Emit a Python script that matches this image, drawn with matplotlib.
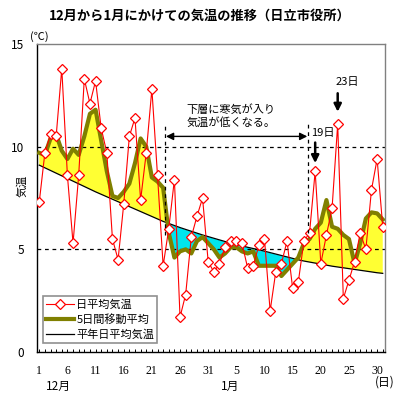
import numpy as np
import matplotlib
matplotlib.use('Agg')
from matplotlib import pyplot as plt
from matplotlib.ticker import FixedLocator, MultipleLocator

plt.rcParams['font.family'] = ['Noto Sans CJK JP', 'DejaVu Sans']

# 日平均気温 (12/1 - 1/31)
daily_temp = [7.3, 9.7, 10.6, 10.5, 13.8, 8.6, 5.3, 8.6, 13.3, 12.1,
              13.2, 10.9, 9.7, 5.5, 4.5, 7.2, 10.5, 11.4, 7.4, 9.7,
              12.8, 8.6, 4.2, 6.0, 8.4, 1.7, 2.8, 5.6, 6.6, 7.5,
              4.4, 3.9, 4.3, 5.1, 5.4, 5.4, 5.3, 4.1, 4.2, 5.2,
              5.5, 2.0, 3.9, 4.3, 5.4, 3.1, 3.4, 5.4, 5.8, 8.8,
              4.3, 5.7, 7.0, 11.1, 2.6, 3.5, 4.4, 5.8, 5.0, 7.9,
              9.4, 6.1]

# 5日間移動平均
moving_avg = [9.7, 9.6, 10.4, 10.6, 9.8, 9.4, 9.9, 9.6, 10.5, 11.6,
              11.8, 10.3, 8.8, 7.6, 7.5, 7.8, 8.2, 9.2, 10.4, 10.0,
              8.5, 8.3, 8.0, 5.8, 4.6, 4.9, 5.0, 4.8, 5.4, 5.6,
              5.3, 5.0, 4.6, 4.8, 5.1, 5.1, 4.9, 4.8, 4.9, 4.2,
              4.2, 4.2, 4.2, 3.7, 4.0, 4.3, 4.6, 5.3, 5.5, 6.0,
              6.3, 7.4, 6.1, 6.0, 5.7, 5.5, 4.3, 5.3, 6.5, 6.8,
              6.75, 6.45]

# 平年日平均気温
normal_temp = [9.10, 8.97, 8.84, 8.71, 8.58, 8.45, 8.32, 8.19, 8.06, 7.93,
               7.80, 7.68, 7.56, 7.44, 7.32, 7.20, 7.08, 6.96, 6.84, 6.72,
               6.60, 6.48, 6.36, 6.26, 6.16, 6.06, 5.97, 5.88, 5.79, 5.70,
               5.62, 5.54, 5.46, 5.38, 5.31, 5.24, 5.17, 5.10, 5.04, 4.98,
               4.91, 4.84, 4.77, 4.70, 4.63, 4.56, 4.49, 4.43, 4.38, 4.33,
               4.28, 4.23, 4.18, 4.14, 4.10, 4.06, 4.02, 3.98, 3.94, 3.90,
               3.86, 3.83]

tick_pos = [0, 5, 10, 15, 20, 25, 30, 35, 40, 45, 50, 55, 60]
tick_labels = ['1', '6', '11', '16', '21', '26', '31', '5', '10', '15', '20', '25', '30']

x = np.arange(len(daily_temp))
ma = np.array(moving_avg)
nt = np.array(normal_temp)

fig = plt.figure(figsize=(4, 4), dpi=100)
ax = fig.add_axes([0.0925, 0.12, 0.87, 0.77])

# 平年との差の塗りつぶし
ax.fill_between(x, ma, nt, where=ma >= nt, interpolate=True,
                color='#ffff33', linewidth=0, zorder=1)
ax.fill_between(x, ma, nt, where=ma < nt, interpolate=True,
                color='#00e5ee', linewidth=0, zorder=1)

for yv in [5, 10]:
    ax.axhline(yv, color='black', lw=0.9, ls=(0, (3, 3)), zorder=2)

ax.plot(x, nt, color='black', lw=0.9, label='平年日平均気温', zorder=3)
ax.plot(x, ma, color='#808000', lw=3.0, label='5日間移動平均', zorder=4)
ax.plot(x, daily_temp, color='red', lw=0.8, marker='D', markersize=4.8,
        markerfacecolor='white', markeredgecolor='red', markeredgewidth=0.9,
        label='日平均気温', zorder=5)

# 注記
ax.plot([22.4, 22.4], [5.7, 11.1], color='black', lw=0.9, ls=(0, (3, 3)), zorder=6)
ax.plot([47.7, 47.7], [5.8, 11.1], color='black', lw=0.9, ls=(0, (3, 3)), zorder=6)
ax.annotate('', xy=(22.5, 10.5), xytext=(47.6, 10.5),
            arrowprops=dict(arrowstyle='<|-|>', color='black', lw=1.0,
                            mutation_scale=11, shrinkA=0, shrinkB=0), zorder=6)
ax.text(26.2, 11.5, '下層に寒気が入り\n気温が低くなる。', fontsize=8,
        ha='left', va='center', linespacing=1.25, zorder=7)
ax.annotate('', xy=(49, 9.2), xytext=(49, 10.2),
            arrowprops=dict(arrowstyle='-|>', color='black', lw=1.8,
                            mutation_scale=11, shrinkA=0, shrinkB=0), zorder=7)
ax.text(48.3, 10.65, '19日', fontsize=8, ha='left', va='center', zorder=7)
ax.annotate('', xy=(53, 11.7), xytext=(53, 12.6),
            arrowprops=dict(arrowstyle='-|>', color='black', lw=1.8,
                            mutation_scale=11, shrinkA=0, shrinkB=0), zorder=7)
ax.text(54.7, 13.15, '23日', fontsize=8, ha='center', va='center', zorder=7)

ax.set_xlim(-0.4, 61.4)
ax.set_ylim(0, 15)
ax.xaxis.set_major_locator(FixedLocator(tick_pos))
ax.set_xticklabels(tick_labels, family='Liberation Serif', fontsize=8.5)
ax.xaxis.set_minor_locator(MultipleLocator(1))
ax.tick_params(axis='x', which='both', direction='in', length=2.5, width=0.7, pad=9)
ax.set_yticks([0, 5, 10, 15])
ax.tick_params(axis='y', length=0, pad=9, labelsize=8.5)

ax.spines['left'].set_color('black')
ax.spines['bottom'].set_color('black')
ax.spines['top'].set_color('#808080')
ax.spines['right'].set_color('#808080')
for s in ax.spines.values():
    s.set_linewidth(1.0)

handles, labels = ax.get_legend_handles_labels()
leg = ax.legend(handles[::-1], labels[::-1], loc='lower left',
                bbox_to_anchor=(0.017, 0.03), borderaxespad=0, fontsize=8,
                handlelength=2.5, handletextpad=0.2, labelspacing=0.35,
                borderpad=0.3, fancybox=False, framealpha=1)
leg.get_frame().set_edgecolor('#909090')
leg.get_frame().set_linewidth(1.2)

fig.text(0.5, 0.962, '12月から1月にかけての気温の推移（日立市役所）',
         fontsize=9.5, fontweight='bold', ha='center', va='center')
fig.text(0.098, 0.908, '(℃)', fontsize=8, ha='center', va='center')
fig.text(0.055, 0.535, '気温', fontsize=8, rotation=90, ha='center', va='center')
fig.text(0.145, 0.033, '12月', fontsize=8.5, ha='center', va='center')
fig.text(0.575, 0.033, '1月', fontsize=8.5, ha='center', va='center')
fig.text(0.962, 0.045, '(日)', fontsize=8.5, ha='center', va='center')

fig.savefig('out.png', dpi=100)
